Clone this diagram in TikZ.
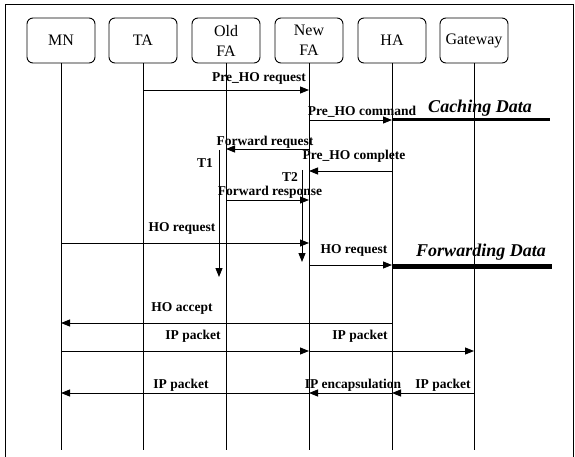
\documentclass[tikz,border=0pt]{standalone}
\usepackage{fontspec}
\setmainfont{Liberation Serif}
\usetikzlibrary{arrows.meta}

\begin{document}
\begin{tikzpicture}[x=1pt, y=-1pt, line width=0.9pt,
  ent/.style={rectangle, rounded corners=6pt, draw, minimum width=68pt,
              minimum height=45pt, align=center, font=\fontsize{16}{20}\selectfont},
  lbl/.style={font=\fontsize{13.5}{14}\selectfont\bfseries, inner sep=0pt},
  big/.style={font=\fontsize{18}{20}\selectfont\bfseries\itshape, inner sep=0pt},
  msg/.style={-{Triangle[length=9pt, width=7pt]}}]
  \useasboundingbox (0,0) rectangle (575,457);
  \draw (5,457) -- (5,4) -- (573,4) -- (573,457);
  % entities and life lines
  \foreach \x/\n/\t in {61/MN/MN, 143/TA/TA, 226/OFA/{Old\\FA}, 309/NFA/{New\\FA}, 392/HA/HA, 474/GW/Gateway} {
    \node[ent] (\n) at (\x,40.5) {\t};
    \draw (\n) -- (\n |- 0,450);
  }
  % pre-handoff phase
  \draw[msg] (TA |- 0,90) -- (NFA |- 0,90);
  \node[lbl] (preq) at (259,78) {Pre\_HO request};
  \draw[msg] (NFA |- 0,120) -- (HA |- 0,120);
  \node[lbl] (pcmd) at (362,112) {Pre\_HO command};
  \coordinate (cend) at (550,120);
  \draw[line width=3pt] (HA |- 0,120) -- (cend);
  \node[big] (cache) at (480,108) {Caching Data};
  \draw[msg] (NFA |- 0,149) -- (OFA |- 0,149);
  \node[lbl] (freq) at (265,142) {Forward request};
  \draw[msg] (HA |- 0,171) -- (NFA |- 0,171);
  \node[lbl] (pcpl) at (354,156) {Pre\_HO complete};
  \draw[msg] (OFA |- 0,200) -- (NFA |- 0,200);
  \node[lbl] (fres) at (270,192) {Forward response};
  % timers
  \coordinate (t1a) at (219,150);
  \coordinate (t1b) at (219,277);
  \draw[msg] (t1a) -- (t1b);
  \node[lbl] (t1) at (205,163) {T1};
  \coordinate (t2a) at (302,170);
  \coordinate (t2b) at (302,262);
  \draw[msg] (t2a) -- (t2b);
  \node[lbl] (t2) at (290,177) {T2};
  % handoff
  \draw[msg] (MN |- 0,243) -- (NFA |- 0,243);
  \node[lbl] (hreq) at (182,228) {HO request};
  \draw[msg] (NFA |- 0,265) -- (HA |- 0,265);
  \node[lbl] (hreq2) at (354,250) {HO request};
  \coordinate (fend) at (552,266);
  \draw[line width=5pt] (HA |- 0,266) -- (fend);
  \node[big] (fwd) at (481,252) {Forwarding Data};
  \draw[msg] (HA |- 0,323) -- (MN |- 0,323);
  \node[lbl] (hacc) at (182,308) {HO accept};
  % data path
  \draw[msg] (MN |- 0,351) -- (NFA |- 0,351);
  \draw[msg] (NFA |- 0,351) -- (GW |- 0,351);
  \node[lbl] (ip1) at (193,336) {IP packet};
  \node[lbl] (ip2) at (360,336) {IP packet};
  \draw[msg] (GW |- 0,393) -- (HA |- 0,393);
  \draw[msg] (HA |- 0,393) -- (NFA |- 0,393);
  \draw[msg] (NFA |- 0,393) -- (MN |- 0,393);
  \node[lbl] (ip3) at (181,385) {IP packet};
  \node[lbl] (encap) at (353,385) {IP encapsulation};
  \node[lbl] (ip4) at (443,385) {IP packet};
\end{tikzpicture}
\end{document}
